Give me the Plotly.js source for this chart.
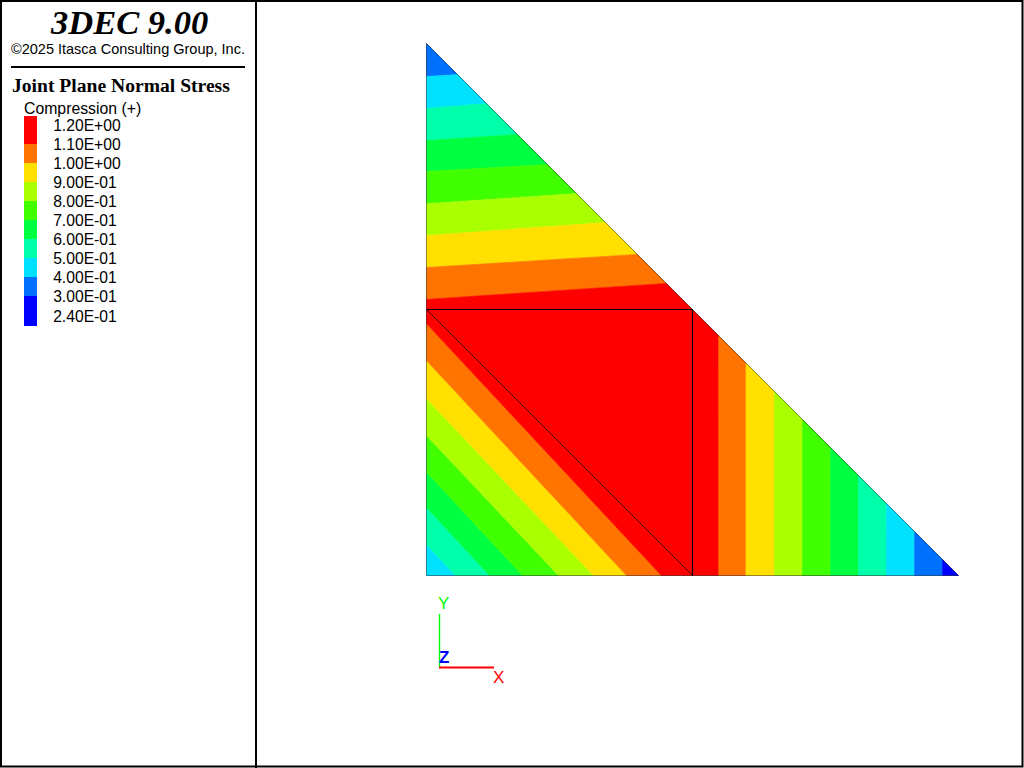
<!DOCTYPE html>
<html>
<head>
<meta charset="utf-8">
<script src="https://cdn.plot.ly/plotly-3.0.1.min.js"></script>
<style>html,body{margin:0;padding:0;background:#fff;overflow:hidden}#plot{width:1024px;height:768px}</style>
</head>
<body>
<div id="plot"></div>
<script>
// Stress band colours, low to high
var bandColors = ['#0000ff','#0070ff','#00e0ff','#00ffaa','#00ff40','#40ff00','#aaff00','#ffe000','#ff7300','#ff0000'];

// Contour boundaries (model units, block legs = 1)
var upperLeftY  = [1.876,1.756,1.635,1.519,1.398,1.278,1.158,1.038];
var upperHypX   = [0.117,0.226,0.342,0.455,0.564,0.673,0.793,0.902];
var lowerLeftY  = [0.117,0.256,0.389,0.526,0.665,0.808,0.947];
var lowerBottomX= [0.109,0.237,0.361,0.496,0.628,0.752,0.883];
var rightX      = [1.096,1.201,1.308,1.414,1.519,1.624,1.729,1.835,1.940];
var coreX       = [0,0.902,1.096,1.096,0.883,0];
var coreY       = [1.038,1.098,0.904,0,0,0.947];

// Joint traces and outer outline
var outlineX = [0,0,2,0];
var outlineY = [0,2,0,0];
var jointX   = [0,1,1];
var jointY   = [1,1,0];
var diagonalX = [0,1];
var diagonalY = [1,0];

// Legend
var legendLabels = ['1.20E+00','1.10E+00','1.00E+00','9.00E-01','8.00E-01','7.00E-01','6.00E-01','5.00E-01','4.00E-01','3.00E-01','2.40E-01'];
var legendTicks  = [1.195,1.095,0.995,0.895,0.795,0.695,0.595,0.495,0.395,0.295,0.19];
var legendEdges  = [1.247,1.1,1.0,0.9,0.8,0.7,0.6,0.5,0.4,0.3,0.142];

function band(ax,ay,bx,by,cx,cy,dx,dy,color){
  return {type:'scatter',mode:'lines',x:[ax,bx,cx,dx,ax],y:[ay,by,cy,dy,ay],fill:'toself',fillcolor:color,
          line:{color:color,width:0.6},hoverinfo:'skip',showlegend:false,xaxis:'x',yaxis:'y'};
}
var traces = [];
// upper block: from the apex down, colours rise from index 1 to 8
var i;
for(i=0;i<upperLeftY.length;i++){
  var y0 = i===0?2:upperLeftY[i-1], hx0 = i===0?0:upperHypX[i-1];
  traces.push(band(0,y0,hx0,2-hx0,upperHypX[i],2-upperHypX[i],0,upperLeftY[i],bandColors[i+1]));
}
// lower-left block: from the right-angle corner, colours rise from index 2 to 8
for(i=0;i<lowerLeftY.length;i++){
  var ly0 = i===0?0:lowerLeftY[i-1], bx0 = i===0?0:lowerBottomX[i-1];
  traces.push(band(0,ly0,bx0,0,lowerBottomX[i],0,0,lowerLeftY[i],bandColors[i+2]));
}
// right block: from the core outwards, colours fall from index 8 to 0
for(i=0;i<rightX.length;i++){
  var xa = rightX[i], xb = i===rightX.length-1?2:rightX[i+1];
  traces.push(band(xa,0,xa,2-xa,xb,2-xb,xb,0,bandColors[8-i]));
}
// red core
traces.push({type:'scatter',mode:'lines',x:coreX.concat(coreX[0]),y:coreY.concat(coreY[0]),fill:'toself',fillcolor:bandColors[9],
  line:{color:bandColors[9],width:0.6},hoverinfo:'skip',showlegend:false});
// outline
traces.push({type:'scatter',mode:'lines',x:outlineX,y:outlineY,line:{color:'rgba(0,0,0,0.42)',width:1},hoverinfo:'skip',showlegend:false});
// joints
traces.push({type:'scatter',mode:'lines',x:jointX,y:jointY,line:{color:'#000000',width:1.2},hoverinfo:'skip',showlegend:false});
traces.push({type:'scatter',mode:'lines',x:diagonalX,y:diagonalY,line:{color:'#000000',width:0.8},hoverinfo:'skip',showlegend:false});

// legend swatches
var legBase=[],legH=[],legCol=[],legX=[];
for(i=0;i<legendEdges.length-1;i++){
  legBase.push(legendEdges[i+1]);
  legH.push(legendEdges[i]-legendEdges[i+1]);
  legCol.push(bandColors[9-i]);
  legX.push(0);
}
traces.push({type:'bar',x:legX,y:legH,base:legBase,width:1,marker:{color:legCol,line:{width:0}},xaxis:'x2',yaxis:'y2',hoverinfo:'skip',showlegend:false});

function note(text,px,py,size,family,color,anchor){
  return {text:text,xref:'paper',yref:'paper',x:px/1024,y:1-py/768,xanchor:anchor||'left',yanchor:'middle',
          showarrow:false,borderpad:0,font:{size:size,family:family,color:color||'#000'}};
}
var sans='"Liberation Sans", Arial, sans-serif', serif='"Liberation Serif", "Times New Roman", serif';

var layout = {
  width:1024,height:768,margin:{l:0,r:0,t:0,b:0,pad:0},paper_bgcolor:'#fff',plot_bgcolor:'rgba(0,0,0,0)',showlegend:false,barmode:'overlay',bargap:0,
  xaxis:{domain:[0,1],range:[-426.5/266,(1024-426.5)/266],visible:false,fixedrange:true},
  yaxis:{domain:[0,1],range:[(575.5-768)/266,575.5/266],visible:false,fixedrange:true},
  xaxis2:{domain:[24/1024,37/1024],range:[-0.5,0.5],visible:false,anchor:'y2',fixedrange:true},
  yaxis2:{domain:[(768-326)/768,(768-116)/768],range:[legendEdges[legendEdges.length-1],legendEdges[0]],anchor:'x2',side:'right',
    tickmode:'array',tickvals:legendTicks,ticktext:legendLabels,ticks:'outside',ticklen:12,tickcolor:'rgba(0,0,0,0)',
    showgrid:false,zeroline:false,showline:false,fixedrange:true,tickfont:{family:sans,size:15.7,color:'#000'}},
  shapes:[
    {type:'rect',xref:'paper',yref:'paper',x0:1/1024,x1:1022.5/1024,y0:1.5/768,y1:767/768,line:{color:'#000',width:2}},
    {type:'line',xref:'paper',yref:'paper',x0:256/1024,x1:256/1024,y0:0,y1:1,line:{color:'#000',width:2}},
    {type:'line',xref:'paper',yref:'paper',x0:11/1024,x1:245/1024,y0:1-67/768,y1:1-67/768,line:{color:'#000',width:2}},
    {type:'line',xref:'paper',yref:'paper',x0:439.5/1024,x1:439.5/1024,y0:1-614/768,y1:1-667/768,line:{color:'#00ff00',width:1.4}},
    {type:'line',xref:'paper',yref:'paper',x0:439/1024,x1:494/1024,y0:1-667.5/768,y1:1-667.5/768,line:{color:'#ff0000',width:2}}
  ],
  annotations:[
    note('<b><i>3DEC 9.00</i></b>',129,22,34.5,serif,'#000','center'),
    note('©2025 Itasca Consulting Group, Inc.',10,49,14.5,sans),
    note('<b>Joint Plane Normal Stress</b>',11,86,19.6,serif),
    note('Compression (+)',23,108,15.8,sans),
    note('Y',437,603,17,sans,'#00ff00'),
    note('<b>Z</b>',438,657,17,sans,'#0000ff'),
    note('X',492,677,17,sans,'#ff0000')
  ]
};
Plotly.newPlot('plot',traces,layout,{staticPlot:true,displayModeBar:false});
</script>
</body>
</html>
